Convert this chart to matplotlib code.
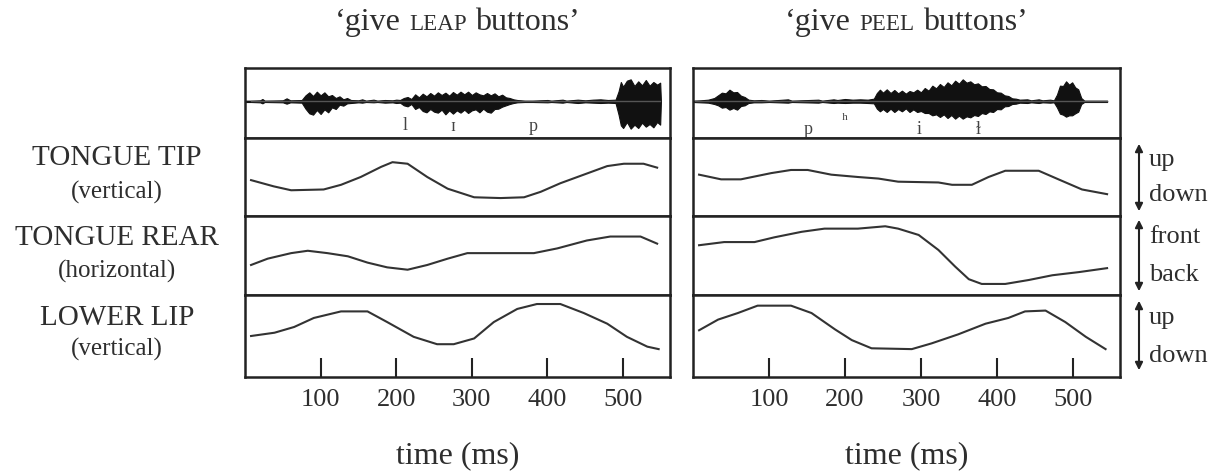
import matplotlib
matplotlib.use('Agg')
import matplotlib.pyplot as plt

plt.rcParams['font.family'] = ['Liberation Serif', 'DejaVu Serif']

W, H = 1226, 474
INK = '#222222'
TXT = '#2e2e2e'

titles = [("‘give", "LEAP", "buttons’"), ("‘give", "PEEL", "buttons’")]
row_labels = [("TONGUE TIP", "(vertical)"),
              ("TONGUE REAR", "(horizontal)"),
              ("LOWER LIP", "(vertical)")]
dir_labels = [("up", "down"), ("front", "back"), ("up", "down")]
xticks = [100, 200, 300, 400, 500]

# segment labels on the waveforms (time in ms, height in waveform units)
leap_segs = [("l", 212, -0.48), ("ɪ", 275, -0.5), ("p", 381, -0.5)]
peel_segs = [("p", 152, -0.58), ("ʰ", 199, -0.32), ("i", 297, -0.6),
             ("ɫ", 376, -0.6)]

# waveform envelope, 'give LEAP buttons'
leap_wave_t = [0, 8, 20, 23, 26, 50, 55, 60, 75, 80, 85, 90, 95, 100, 105, 110,
               115, 120, 125, 130, 135, 140, 150, 155, 160, 170, 175, 185, 195,
               200, 205, 210, 215, 220, 225, 230, 235, 240, 245, 250, 255, 260,
               265, 270, 275, 280, 285, 290, 295, 300, 305, 310, 315, 320, 325,
               330, 335, 340, 345, 350, 355, 360, 370, 380, 400, 405, 420, 425,
               440, 450, 460, 470, 480, 490, 494, 497, 500, 505, 510, 515, 520,
               525, 530, 535, 540, 545, 549, 550]
leap_wave_up = [0.02, 0.02, 0.03, 0.07, 0.02, 0.03, 0.09, 0.03, 0.04, 0.18,
                0.27, 0.16, 0.29, 0.18, 0.27, 0.15, 0.19, 0.10, 0.15, 0.06,
                0.10, 0.04, 0.03, 0.06, 0.02, 0.05, 0.02, 0.04, 0.03, 0.05,
                0.04, 0.10, 0.13, 0.07, 0.21, 0.12, 0.23, 0.15, 0.25, 0.17,
                0.27, 0.19, 0.26, 0.17, 0.28, 0.20, 0.29, 0.21, 0.29, 0.19,
                0.27, 0.21, 0.18, 0.25, 0.18, 0.24, 0.15, 0.20, 0.12, 0.10,
                0.06, 0.04, 0.02, 0.02, 0.04, 0.02, 0.05, 0.02, 0.05, 0.03,
                0.05, 0.06, 0.04, 0.05, 0.30, 0.58, 0.44, 0.62, 0.66, 0.46,
                0.60, 0.48, 0.64, 0.47, 0.58, 0.50, 0.56, 0.0]
leap_wave_dn = [0.02, 0.02, 0.03, 0.06, 0.02, 0.03, 0.07, 0.03, 0.04, 0.22,
                0.36, 0.40, 0.26, 0.38, 0.24, 0.33, 0.18, 0.23, 0.10, 0.13,
                0.06, 0.05, 0.03, 0.04, 0.02, 0.03, 0.02, 0.04, 0.03, 0.05,
                0.04, 0.12, 0.15, 0.08, 0.23, 0.17, 0.29, 0.33, 0.23, 0.31,
                0.34, 0.25, 0.39, 0.27, 0.37, 0.27, 0.34, 0.25, 0.35, 0.27,
                0.24, 0.33, 0.22, 0.31, 0.34, 0.23, 0.22, 0.16, 0.12, 0.08,
                0.05, 0.03, 0.02, 0.02, 0.03, 0.02, 0.04, 0.02, 0.05, 0.03,
                0.04, 0.05, 0.04, 0.05, 0.40, 0.72, 0.80, 0.62, 0.82, 0.70,
                0.80, 0.64, 0.76, 0.68, 0.78, 0.62, 0.70, 0.0]

# waveform envelope, 'give PEEL buttons'
peel_wave_t = [0, 10, 20, 28, 33, 38, 43, 48, 53, 58, 63, 68, 73, 80, 90, 100,
               125, 130, 165, 170, 185, 190, 200, 210, 220, 230, 238, 242, 246,
               250, 255, 260, 265, 270, 275, 280, 285, 290, 295, 300, 305, 310,
               315, 320, 325, 330, 335, 340, 345, 350, 355, 360, 365, 370, 375,
               380, 385, 390, 395, 400, 405, 410, 415, 420, 425, 430, 440, 445,
               455, 460, 470, 475, 479, 483, 487, 491, 495, 499, 503, 507, 511,
               515, 545]
peel_wave_up = [0.02, 0.03, 0.05, 0.10, 0.18, 0.26, 0.24, 0.35, 0.27, 0.28,
                0.17, 0.13, 0.05, 0.03, 0.04, 0.02, 0.06, 0.02, 0.05, 0.02,
                0.06, 0.04, 0.07, 0.05, 0.06, 0.05, 0.08, 0.25, 0.35, 0.26,
                0.36, 0.25, 0.34, 0.24, 0.32, 0.23, 0.31, 0.27, 0.35, 0.27,
                0.40, 0.32, 0.47, 0.39, 0.52, 0.43, 0.57, 0.48, 0.62, 0.53,
                0.66, 0.56, 0.60, 0.51, 0.54, 0.45, 0.46, 0.37, 0.36, 0.27,
                0.26, 0.18, 0.16, 0.09, 0.08, 0.05, 0.06, 0.03, 0.06, 0.03,
                0.05, 0.03, 0.20, 0.47, 0.46, 0.60, 0.50, 0.57, 0.42, 0.36,
                0.10, 0.02, 0.02]
peel_wave_dn = [0.02, 0.03, 0.04, 0.08, 0.12, 0.19, 0.17, 0.25, 0.20, 0.25,
                0.14, 0.12, 0.05, 0.03, 0.03, 0.02, 0.04, 0.02, 0.04, 0.02,
                0.05, 0.04, 0.05, 0.04, 0.04, 0.05, 0.06, 0.22, 0.30, 0.23,
                0.32, 0.22, 0.32, 0.23, 0.30, 0.21, 0.32, 0.24, 0.32, 0.29,
                0.35, 0.35, 0.42, 0.39, 0.47, 0.39, 0.50, 0.41, 0.52, 0.43,
                0.52, 0.45, 0.48, 0.41, 0.44, 0.35, 0.38, 0.30, 0.32, 0.23,
                0.24, 0.15, 0.14, 0.08, 0.07, 0.04, 0.05, 0.03, 0.05, 0.03,
                0.04, 0.03, 0.18, 0.37, 0.40, 0.46, 0.42, 0.42, 0.36, 0.31,
                0.08, 0.02, 0.02]

# articulator traces (0 = bottom of panel, 100 = top)
leap_tip_t = [8, 38, 61, 104, 127, 153, 180, 195, 215, 241, 268, 303, 338,
              369, 391, 417, 448, 479, 501, 527, 545]
leap_tip = [46, 38, 33, 34, 40, 50, 63, 69, 67, 50, 35, 24, 23, 24, 31, 42,
            53, 64, 67, 67, 62]
leap_rear_t = [8, 30, 61, 83, 109, 136, 162, 188, 215, 241, 268, 294, 338,
               382, 413, 452, 483, 523, 545]
leap_rear = [38, 46, 53, 56, 53, 49, 41, 35, 32, 38, 46, 53, 53, 53, 59, 69,
             74, 74, 65]
leap_lip_t = [8, 39, 65, 91, 127, 162, 188, 223, 254, 276, 303, 329, 360, 386,
              417, 448, 479, 505, 532, 547]
leap_lip = [50, 54, 61, 72, 80, 80, 67, 49, 40, 40, 47, 67, 83, 89, 89, 78,
            65, 49, 37, 34]

peel_tip_t = [8, 37, 63, 103, 129, 151, 182, 217, 244, 270, 323, 341, 367,
              389, 411, 455, 481, 512, 545]
peel_tip = [53, 47, 47, 55, 59, 59, 53, 50, 48, 44, 43, 40, 40, 50, 58, 58,
            47, 34, 28]
peel_rear_t = [8, 41, 81, 107, 143, 173, 217, 253, 270, 297, 323, 345, 363,
               380, 411, 442, 473, 508, 545]
peel_rear = [63, 67, 67, 73, 80, 84, 84, 87, 84, 76, 57, 36, 20, 14, 14, 19,
             25, 29, 34]
peel_lip_t = [8, 33, 59, 85, 129, 156, 187, 209, 235, 288, 314, 349, 385, 415,
              437, 464, 490, 517, 543]
peel_lip = [57, 70, 78, 87, 87, 78, 58, 45, 35, 34, 41, 52, 65, 72, 80, 81,
            67, 49, 34]

columns = [
    dict(left=245, right=670, title=titles[0], segs=leap_segs,
         wave=(leap_wave_t, leap_wave_up, leap_wave_dn), base=(8, 549),
         traces=[(leap_tip_t, leap_tip), (leap_rear_t, leap_rear),
                 (leap_lip_t, leap_lip)]),
    dict(left=693, right=1120, title=titles[1], segs=peel_segs,
         wave=(peel_wave_t, peel_wave_up, peel_wave_dn), base=(2, 545),
         traces=[(peel_tip_t, peel_tip), (peel_rear_t, peel_rear),
                 (peel_lip_t, peel_lip)]),
]
# panel edges in pixels from the top: waveform, tip, rear, lip
rows_px = [68, 138, 216, 295, 377]
XMAX = 562


def fig_box(x0, x1, y0, y1):
    return [x0 / W, 1 - y1 / H, (x1 - x0) / W, (y1 - y0) / H]


def style(ax):
    for sp in ax.spines.values():
        sp.set_linewidth(1.8)
        sp.set_color(INK)
    ax.set_xlim(0, XMAX)
    ax.set_xticks([])
    ax.set_yticks([])


fig = plt.figure(figsize=(W / 100, H / 100), dpi=100)
renderer = fig.canvas.get_renderer()

for col in columns:
    # waveform
    ax = fig.add_axes(fig_box(col['left'], col['right'], rows_px[0], rows_px[1]))
    style(ax)
    t, up, dn = col['wave']
    ax.fill_between(t, [-v for v in dn], up, color='#111111', lw=0.8,
                    edgecolor='#111111')
    ax.plot(col['base'], [0, 0], color='#555555', lw=1.0)
    ax.set_ylim(-1.1, 1.0)
    for s, ts, yy in col['segs']:
        ax.text(ts, yy, s, ha='center', va='top', fontsize=13, color='#444444')

    # articulator traces
    for i, (tt, vv) in enumerate(col['traces']):
        ax = fig.add_axes(fig_box(col['left'], col['right'],
                                  rows_px[i + 1], rows_px[i + 2]))
        style(ax)
        ax.plot(tt, vv, color='#333333', lw=1.5)
        ax.set_ylim(0, 100)
    ax.set_xticks(xticks)
    ax.set_xticklabels([str(x) for x in xticks])
    ax.tick_params(axis='x', direction='in', length=14, width=1.5,
                   color=INK, labelsize=19, pad=9, labelcolor=TXT)

    # title with small caps word
    size = 23
    ty = 1 - 30 / H
    pieces = [fig.text(0, ty, col['title'][0], fontsize=size,
                       color=TXT, va='baseline'),
              fig.text(0, ty, col['title'][1], fontsize=size * 0.72,
                       color=TXT, va='baseline'),
              fig.text(0, ty, col['title'][2], fontsize=size,
                       color=TXT, va='baseline')]
    widths = [p.get_window_extent(renderer).width for p in pieces]
    gap = 0.27 * size * 100 / 72
    total = sum(widths) + 2 * gap
    x = (col['left'] + col['right']) / 2 - total / 2
    for p, w in zip(pieces, widths):
        p.set_x(x / W)
        x += w + gap

    fig.text((col['left'] + col['right']) / 2 / W, 1 - 456 / H, 'time (ms)',
             ha='center', va='center', fontsize=23, color=TXT)

# row labels on the left
label_y = [(158, 192), (238, 271), (318, 349)]
for (big, small), (y1, y2) in zip(row_labels, label_y):
    fig.text(117 / W, 1 - y1 / H, big, ha='center', va='center',
             fontsize=21, color=TXT)
    fig.text(117 / W, 1 - y2 / H, small, ha='center', va='center',
             fontsize=18, color=TXT)

# direction arrows on the right
arrow_y = [(141, 214), (217, 294), (298, 373)]
dir_y = [(160, 195), (237, 275), (318, 356)]
for (a, b), (ya, yb), (t1, t2) in zip(dir_labels, arrow_y, dir_y):
    fig.add_artist(matplotlib.patches.FancyArrowPatch(
        (1139 / W, 1 - ya / H), (1139 / W, 1 - yb / H),
        transform=fig.transFigure, arrowstyle='<|-|>', mutation_scale=11,
        lw=1.5, color=INK))
    fig.text(1149 / W, 1 - t1 / H, a, ha='left', va='center', fontsize=19,
             color=TXT)
    fig.text(1149 / W, 1 - t2 / H, b, ha='left', va='center', fontsize=19,
             color=TXT)

fig.savefig('out.png', dpi=100)
